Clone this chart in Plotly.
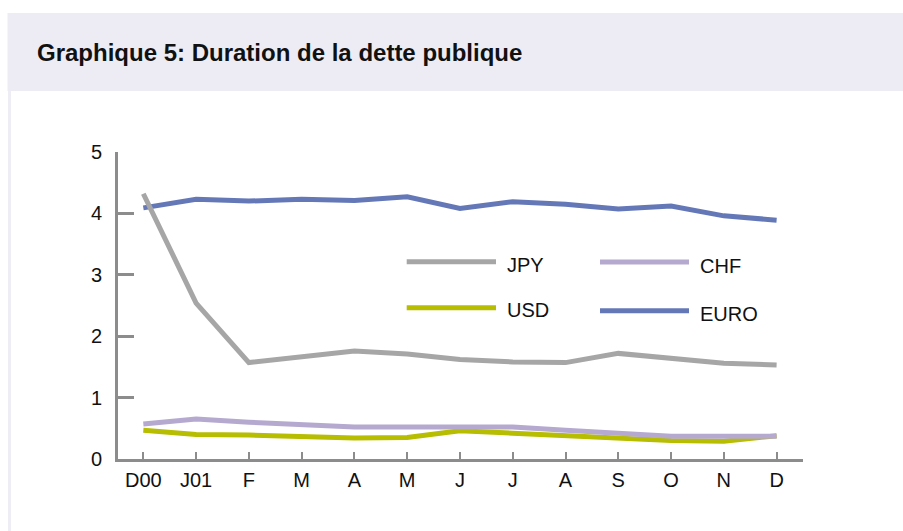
import plotly.graph_objects as go

categories = ["D00", "J01", "F", "M", "A", "M ", "J", "J ", "A ", "S", "O", "N", "D"]
tick_labels = ["D00", "J01", "F", "M", "A", "M", "J", "J", "A", "S", "O", "N", "D"]
jpy = [4.32, 2.54, 1.57, 1.67, 1.76, 1.71, 1.62, 1.58, 1.57, 1.72, 1.64, 1.56, 1.53]
chf = [0.57, 0.65, 0.60, 0.56, 0.52, 0.52, 0.51, 0.52, 0.47, 0.42, 0.37, 0.37, 0.37]
usd = [0.47, 0.40, 0.39, 0.37, 0.34, 0.35, 0.46, 0.42, 0.38, 0.35, 0.30, 0.29, 0.38]
euro = [4.09, 4.23, 4.20, 4.23, 4.21, 4.27, 4.08, 4.19, 4.15, 4.07, 4.12, 3.96, 3.89]

C_JPY = "#A6A6A6"
C_CHF = "#B5A9D0"
C_USD = "#B7BD00"
C_EURO = "#6478B8"

FONT = "Liberation Sans, Arial, sans-serif"

fig = go.Figure()
x_idx = list(range(len(categories)))
for name, vals, col in [("EURO", euro, C_EURO), ("USD", usd, C_USD),
                        ("CHF", chf, C_CHF), ("JPY", jpy, C_JPY)]:
    fig.add_trace(go.Scatter(x=x_idx, y=vals, mode="lines", name=name,
                             line=dict(color=col, width=5),
                             showlegend=False, hoverinfo="x+y+name"))

# plot area in pixels: x 118..803, y 152..459
W, H = 903, 531
L, R, T, B = 118, 803, 152, 459
def px(x):
    return (x - L) / (R - L)
def py(y):
    return (B - y) / (B - T)

shapes = [
    dict(type="rect", xref="paper", yref="paper", x0=px(7.5), x1=px(903), y0=py(91), y1=py(13),
         fillcolor="#EDECF5", line=dict(width=0), layer="below"),
    dict(type="rect", xref="paper", yref="paper", x0=px(8), x1=px(11), y0=py(531), y1=py(91),
         fillcolor="#EEEDF6", line=dict(width=0), layer="below"),
]
annotations = [
    dict(text="<b>Graphique 5: Duration de la dette publique</b>", xref="paper", yref="paper",
         x=px(35), y=py(52), xanchor="left", yanchor="middle", showarrow=False,
         font=dict(family=FONT, size=24, color="#111111")),
]

legend_items = [("JPY", C_JPY, 406.7, 496, 261.7, 505, 265),
                ("CHF", C_CHF, 600, 689, 262, 698, 266),
                ("USD", C_USD, 406.7, 496, 307.7, 505, 310),
                ("EURO", C_EURO, 600, 689, 310.7, 698, 314)]
for name, col, x0, x1, yl, xt, yt in legend_items:
    shapes.append(dict(type="line", xref="paper", yref="paper", x0=px(x0), x1=px(x1),
                       y0=py(yl), y1=py(yl), line=dict(color=col, width=5)))
    annotations.append(dict(text=name, xref="paper", yref="paper", x=px(xt), y=py(yt),
                            xanchor="left", yanchor="middle", showarrow=False,
                            font=dict(family=FONT, size=20, color="#111111")))

fig.update_layout(
    width=W, height=H,
    margin=dict(l=L, r=W - R, t=T, b=H - B, pad=0),
    paper_bgcolor="white", plot_bgcolor="white",
    shapes=shapes, annotations=annotations,
    font=dict(family=FONT, size=20, color="#111111"),
)
fig.update_xaxes(
    range=[-0.48, 12.5], tickmode="array", tickvals=x_idx, ticktext=tick_labels,
    showgrid=False, zeroline=False, showline=True, linecolor="#8C8C8C", linewidth=3,
    ticks="inside", ticklen=7, tickwidth=2, tickcolor="#8C8C8C",
    ticklabelstandoff=1, tickfont=dict(family=FONT, size=20, color="#111111"),
)
fig.update_yaxes(
    range=[0, 5], tickvals=[0, 1, 2, 3, 4, 5], showgrid=False, zeroline=False,
    showline=True, linecolor="#8C8C8C", linewidth=3,
    ticks="inside", ticklen=16, tickwidth=3, tickcolor="#8C8C8C",
    ticklabelstandoff=9, tickfont=dict(family=FONT, size=20, color="#111111"),
)

fig.write_html("out.html", config={"displayModeBar": False},
               post_script="document.body.style.margin='0';document.body.style.overflow='hidden';")
